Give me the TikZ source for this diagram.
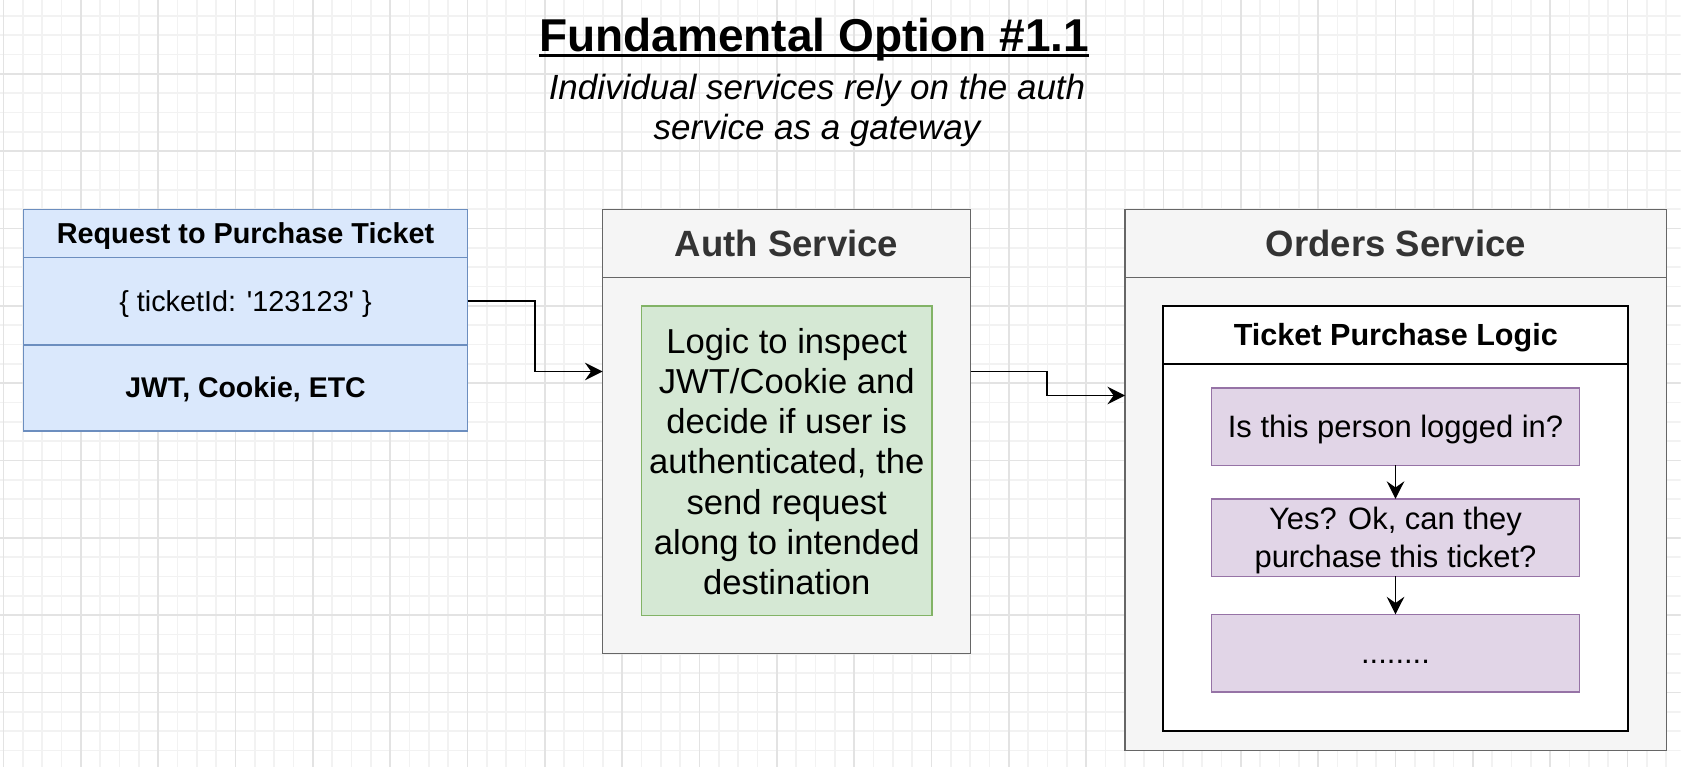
\documentclass[tikz,border=0pt]{standalone}
\usepackage{fontspec}
\setmainfont{Liberation Sans}
\usetikzlibrary{arrows.meta,positioning}

\definecolor{reqfill}{HTML}{DAE8FC}
\definecolor{reqline}{HTML}{6C8EBF}
\definecolor{svcfill}{HTML}{F5F5F5}
\definecolor{svcline}{HTML}{666666}
\definecolor{svctext}{HTML}{333333}
\definecolor{logicfill}{HTML}{D5E8D4}
\definecolor{logicline}{HTML}{82B366}
\definecolor{stepfill}{HTML}{E1D5E7}
\definecolor{stepline}{HTML}{9673A6}
\newcommand{\linestrut}{\rule[-.212em]{0pt}{1.117em}}
\newcommand{\raisetext}[1]{\rule{0pt}{#1}}

\begin{document}
\begin{tikzpicture}[every node/.append style={align=center, inner sep=0pt, outer sep=0pt,
                    execute at begin node=\linestrut, execute at end node=\linestrut},
    reqbox/.style={draw=reqline, fill=reqfill, line width=.8pt, minimum width=8.88cm},
    svcbox/.style={draw=svcline, fill=svcfill, line width=.9pt, text=svctext},
    purchbox/.style={draw=black, fill=white, line width=1.2pt, minimum width=9.3cm},
    logicbox/.style={draw=logicline, fill=logicfill, line width=.8pt},
    stepbox/.style={draw=stepline, fill=stepfill, line width=.8pt, minimum width=7.36cm,
                    minimum height=1.55cm, font=\fontsize{17.6}{21.6}\selectfont},
    flow/.style={-{Stealth[length=10pt,width=10pt,inset=3.5pt]}, line width=.9pt}]
    \useasboundingbox (0,-15.48) rectangle (33.84,0);
    % background grid
    \begin{scope}
        \clip (0,-15.33) rectangle (33.61,0);
        \draw[shift={(0.068,0.072)}, step=0.38667, color=black!5, line width=.9pt] (-1,-16) grid (34,1);
        \draw[shift={(0.068,0.072)}, step=1.54667, color=black!11, line width=.9pt] (-1,-16) grid (34,1);
    \end{scope}

    % heading
    \node[font=\bfseries\fontsize{26.2}{31}\selectfont, anchor=base] (title) at (16.28,-1.03) {Fundamental Option \#1.1};
    \draw[line width=1.2pt] ([yshift=-2.3pt]title.base west) -- ([yshift=-2.3pt]title.base east);
    \node[font=\itshape\fontsize{19.9}{22.8}\selectfont] (subtitle) at (16.34,-2.22)
        {Individual services rely on the auth\\service as a gateway};

    % request
    \node[reqbox, minimum height=0.962cm, font=\bfseries\fontsize{16.4}{19}\selectfont] (reqhead) at (4.91,-4.669) {Request to Purchase Ticket};
    \node[reqbox, minimum height=1.75cm, font=\fontsize{16.4}{19}\selectfont, below=0pt of reqhead] (reqbody) {\{ ticketId: \textquotesingle 123123\textquotesingle\ \}};
    \node[reqbox, minimum height=1.72cm, font=\bfseries\fontsize{16.2}{19}\selectfont, below=0pt of reqbody] (reqfoot) {JWT, Cookie, ETC};

    % auth service
    \node[svcbox, minimum width=7.36cm, minimum height=1.362cm, font=\bfseries\fontsize{20.8}{24}\selectfont] (authhead) at (15.73,-4.869) {Auth Service};
    \node[svcbox, minimum width=7.36cm, minimum height=7.52cm, below=0pt of authhead] (authbody) {};
    \node[logicbox, minimum width=5.81cm, minimum height=6.19cm, font=\fontsize{19.7}{22.9}\selectfont] (logic) at (15.735,-9.215)
        {\raisetext{.97em}Logic to inspect\\JWT/Cookie and\\decide if user is\\authenticated, the\\send request\\along to intended\\destination};

    % orders service
    \node[svcbox, minimum width=10.83cm, minimum height=1.362cm, font=\bfseries\fontsize{20.8}{24}\selectfont] (ordershead) at (27.917,-4.869) {Orders Service};
    \node[svcbox, minimum width=10.83cm, minimum height=9.464cm, below=0pt of ordershead] (ordersbody) {};
    \node[purchbox, minimum height=1.154cm, font=\bfseries\fontsize{17.4}{20}\selectfont] (purchhead) at (27.917,-6.697) {Ticket Purchase Logic};
    \node[purchbox, minimum height=7.346cm, below=0pt of purchhead] (purchbody) {};
    \node[stepbox] (step1) at (27.91,-8.533) {Is this person logged in?};
    \node[stepbox, below=0.67cm of step1] (step2) {\raisetext{.89em}Yes? Ok, can they\\purchase this ticket?};
    \node[stepbox, below=0.76cm of step2] (step3) {........};

    % connectors
    \coordinate (authin) at (12.05,-7.43);
    \coordinate (ordersin) at (22.5,-7.91);
    \draw[flow] (reqbody.east) -- ++(1.35,0) |- (authin);
    \draw[flow] (authin -| authbody.east) -- ++(1.53,0) |- (ordersin);
    \draw[flow] (step1) -- (step2);
    \draw[flow] (step2) -- (step3);
\end{tikzpicture}
\end{document}
